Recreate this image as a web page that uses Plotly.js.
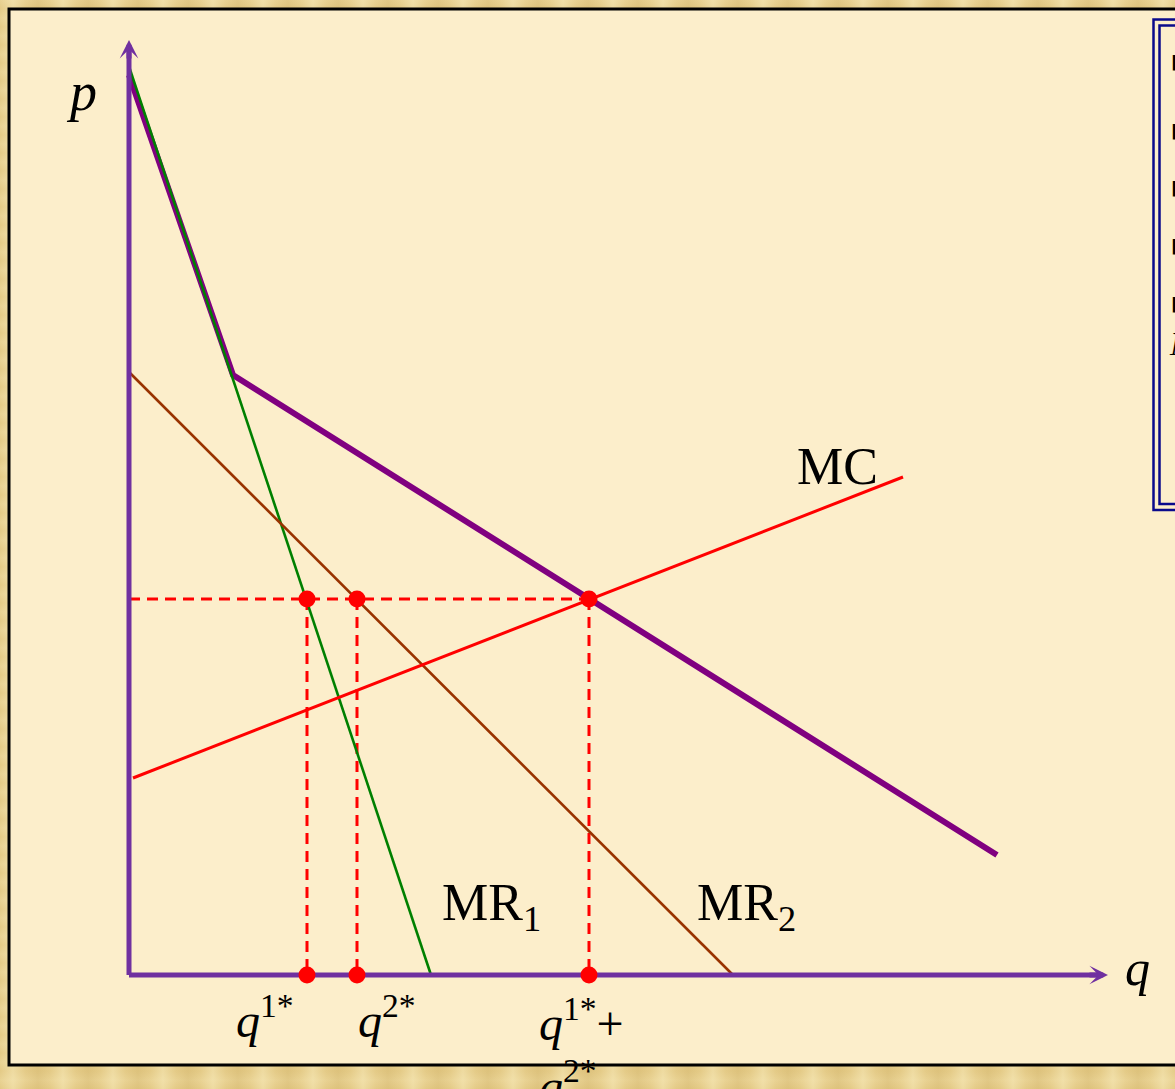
<!DOCTYPE html>
<html>
<head>
<meta charset="utf-8">
<script src="https://cdn.plot.ly/plotly-3.0.1.min.js"></script>
<style>
  html, body { margin: 0; padding: 0; overflow: hidden; }
  #chart {
    width: 1175px; height: 1089px;
    background-color: #E4CA86;
    background-image:
      repeating-linear-gradient(90deg,
        rgba(255,246,205,0) 0px, rgba(255,246,205,0.38) 13px,
        rgba(255,246,205,0) 26px, rgba(185,150,70,0.16) 38px,
        rgba(255,246,205,0) 50px),
      repeating-linear-gradient(0deg,
        rgba(255,246,205,0) 0px, rgba(255,246,205,0.18) 9px,
        rgba(255,246,205,0) 18px);
  }
</style>
</head>
<body>
<div id="chart"></div>
<script>
// Two-plant monopolist: market demand, marginal revenue of each plant, marginal cost
const qAxisEnd = 97.9;   // length of the q axis (chart units)
const pAxisEnd = 93.5;   // length of the p axis (chart units)

const demandQ = [0, 10.4, 86.8];
const demandP = [90.0, 60.0, 12.0];

const mr1Q = [0.05, 30.2];
const mr1P = [90.7, 0];

const mr2Q = [0, 60.4];
const mr2P = [60.3, 0];

const mcQ = [0.4, 77.4];
const mcP = [19.7, 49.8];

const pStar = 37.6;
const optQ = [17.8, 22.8, 46.0];               // q1*, q2*, q1*+q2*
const optLabels = ['<i>q</i><sup>1*</sup>', '<i>q</i><sup>2*</sup>',
                   '<i>q</i><sup>1*</sup>+<br><i>q</i><sup>2*</sup>'];

const W = 1175, H = 1089;
const px = x => x / W;          // pixel -> paper x
const py = y => 1 - y / H;      // pixel -> paper y

// dashed guides: one horizontal at p*, verticals down from each optimum
const guideX = [0, optQ[2]], guideY = [pStar, pStar];
optQ.forEach(q => { guideX.push(null, q, q); guideY.push(null, pStar, 0); });

const axisColor = '#7030A0';
const traces = [
  { x: guideX, y: guideY, mode: 'lines', line: { color: '#FF0000', width: 3, dash: '11px,7px' } },
  { x: demandQ, y: demandP, mode: 'lines', line: { color: '#800080', width: 6 } },
  { x: mr1Q, y: mr1P, mode: 'lines', line: { color: '#008000', width: 2.6 } },
  { x: mr2Q, y: mr2P, mode: 'lines', line: { color: '#993300', width: 2.6 } },
  { x: mcQ, y: mcP, mode: 'lines', line: { color: '#FF0000', width: 3 } },
  { x: [0, 0, null, 0, qAxisEnd - 1], y: [pAxisEnd - 1, 0, null, 0, 0], mode: 'lines',
    line: { color: axisColor, width: 5 } },
  { x: optQ.concat(optQ), y: optQ.map(() => pStar).concat(optQ.map(() => 0)),
    mode: 'markers', marker: { color: '#FF0000', size: 17 } }
];

const serif = 'Liberation Serif, Times New Roman, serif';
const txt = (x, y, text, size, xanchor, yanchor, extra) => Object.assign({
  xref: 'paper', yref: 'paper', x: px(x), y: py(y), text: text, showarrow: false,
  xanchor: xanchor, yanchor: yanchor, font: { family: serif, size: size, color: '#000' }
}, extra || {});
const bullet = y => txt(1169, y, '■ ■', 20, 'left', 'middle',
  { font: { family: 'DejaVu Sans', size: 20, color: '#000' } });

const annotations = [
  // arrowheads of the two axes
  { xref: 'x', yref: 'y', axref: 'x', ayref: 'y', x: 0, y: pAxisEnd, ax: 0, ay: pAxisEnd - 2,
    text: '', showarrow: true, arrowhead: 3, arrowsize: 0.62, arrowwidth: 5, arrowcolor: axisColor, standoff: 0 },
  { xref: 'x', yref: 'y', axref: 'x', ayref: 'y', x: qAxisEnd, y: 0, ax: qAxisEnd - 2, ay: 0,
    text: '', showarrow: true, arrowhead: 3, arrowsize: 0.62, arrowwidth: 5, arrowcolor: axisColor, standoff: 0 },
  txt(81, 92, '<i>p</i>', 54, 'center', 'middle'),
  txt(1137, 968, '<i>q</i>', 50, 'center', 'middle'),
  txt(795, 466, 'MC', 52, 'left', 'middle'),
  txt(440, 906, 'MR<sub>1</sub>', 52, 'left', 'middle'),
  txt(695, 906, 'MR<sub>2</sub>', 52, 'left', 'middle'),
  txt(234, 1017, optLabels[0], 48, 'left', 'middle'),
  txt(356, 1017, optLabels[1], 48, 'left', 'middle'),
  txt(537, 988, optLabels[2], 48, 'left', 'top', { align: 'left' }),
  // text of the side panel, mostly beyond the right edge
  bullet(61), bullet(130), bullet(187), bullet(245), bullet(303),
  txt(1167, 344, '<i>M</i>', 34, 'left', 'middle')
];

const shapes = [
  { type: 'rect', xref: 'paper', yref: 'paper', layer: 'below',
    x0: px(9), x1: px(1210), y0: py(9), y1: py(1065),
    fillcolor: '#FCEECB', line: { color: '#000000', width: 3 } },
  { type: 'rect', xref: 'paper', yref: 'paper', layer: 'below',
    x0: px(1153.5), x1: px(1230), y0: py(19.5), y1: py(510),
    fillcolor: 'rgba(0,0,0,0)', line: { color: '#0A0A8C', width: 2.5 } },
  { type: 'rect', xref: 'paper', yref: 'paper', layer: 'below',
    x0: px(1159.5), x1: px(1230), y0: py(25.5), y1: py(504),
    fillcolor: 'rgba(0,0,0,0)', line: { color: '#0A0A8C', width: 2.5 } }
];

const layout = {
  width: W, height: H,
  margin: { l: 0, r: 0, t: 0, b: 0 },
  paper_bgcolor: 'rgba(0,0,0,0)',
  plot_bgcolor: 'rgba(0,0,0,0)',
  showlegend: false,
  xaxis: { range: [-12.9, 104.6], visible: false, fixedrange: true },
  yaxis: { range: [-11.4, 97.5], visible: false, fixedrange: true },
  shapes: shapes,
  annotations: annotations
};

Plotly.newPlot('chart', traces, layout, { staticPlot: true, displayModeBar: false });
</script>
</body>
</html>
